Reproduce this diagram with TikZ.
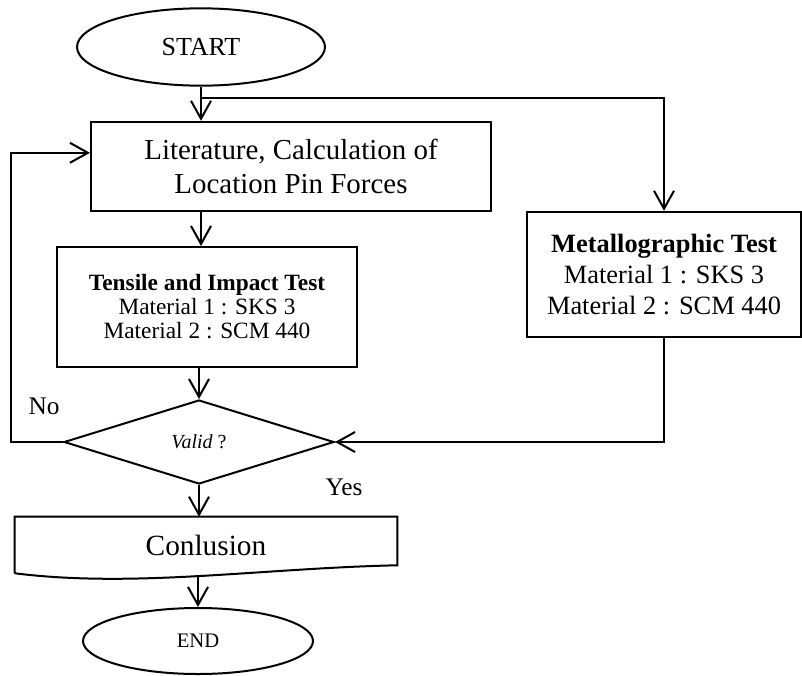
\documentclass[tikz,border=0pt]{standalone}
\usepackage{fontspec}
\setmainfont{Liberation Serif}
\usepackage{tikz}
\usetikzlibrary{shapes,arrows.meta,positioning,calc}
\tikzstyle{terminal} = [ellipse, draw, line width=1.5pt, inner sep=0pt]
\tikzstyle{process} = [rectangle, draw, line width=1.5pt, inner sep=0pt, align=center]
\tikzstyle{decision} = [diamond, draw, line width=1.5pt, inner sep=0pt]
\tikzstyle{docshape} = [rectangle, inner sep=0pt]
\tikzstyle{answer} = [inner sep=0pt, font=\fontsize{19}{22}\selectfont]
\tikzstyle{arrow} = [-{Straight Barb[length=13.5pt, width=15pt]}, line width=1.5pt]

\begin{document}
\begin{tikzpicture}[x=0.75pt, y=-0.75pt]
\useasboundingbox (0,0) rectangle (802,675);

\node[terminal, minimum width=186pt, minimum height=58pt, font=\fontsize{19.5}{23}\selectfont] (start) at (201,47) {START};
\node[process, minimum width=300pt, minimum height=67pt, font=\fontsize{21.7}{26}\selectfont] (literature) at (291,166.5) {Literature, Calculation of\\Location Pin Forces};
\node[process, minimum width=225pt, minimum height=90pt, font=\fontsize{17.5}{18}\selectfont] (tensile) at (207,307) {\textbf{Tensile and Impact Test}\\Material 1 : SKS 3\\Material 2 : SCM 440};
\node[process, minimum width=205.5pt, minimum height=94pt, font=\fontsize{19.8}{23}\selectfont] (metallo) at (664,274.5) {\textbf{Metallographic Test}\\Material 1 : SKS 3\\Material 2 : SCM 440};
\node[decision, minimum width=202.5pt, minimum height=63pt, font=\fontsize{15}{18}\selectfont] (valid) at (199,442) {\textit{Valid} ?};
\node[docshape, minimum width=286.5pt, minimum height=42pt, font=\fontsize{22}{26}\selectfont] (conclusion) at (206,545) {Conlusion};
\node[terminal, minimum width=172.5pt, minimum height=49.5pt, font=\fontsize{15.5}{18}\selectfont] (stop) at (198,641) {END};

\node[answer] (no) at (44,406) {No};
\node[answer] (yes) at (344,487) {Yes};

% document outline with wavy bottom
\draw[line width=1.5pt] (conclusion.south west) -- (conclusion.north west) -- (conclusion.north east) -- ($(conclusion.south east)+(0,-8)$) .. controls +(-137,3) and +(120,15) .. (conclusion.south west);

\coordinate (fork) at (201,98);
\draw[arrow] (start.south) -- (start.south |- literature.north);
\draw[arrow] (fork) -| (metallo.north);
\draw[arrow] (start |- literature.south) -- (start |- tensile.north);
\draw[arrow] (valid.north |- tensile.south) -- (valid.north);
\draw[arrow] (metallo.south) |- (valid.east);
\draw[arrow] (valid.west) -- ++(-52,0) |- ($(literature.north west)!0.35!(literature.south west)$);
\draw[arrow] (valid.south) -- (valid.south |- conclusion.north);
\draw[arrow] ($(stop.north |- conclusion.south)+(0,3)$) -- (stop.north);

\end{tikzpicture}
\end{document}
